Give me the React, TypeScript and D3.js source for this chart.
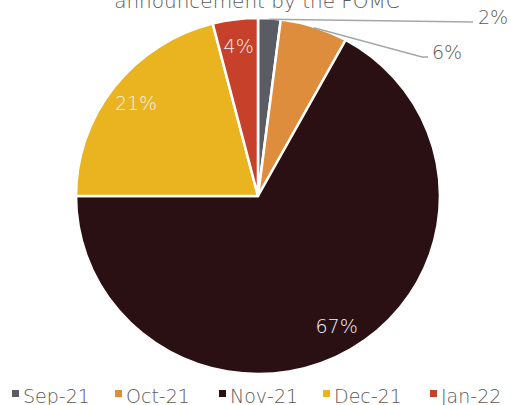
import React from "react";
import * as d3 from "d3";

const categories = ["Sep-21", "Oct-21", "Nov-21", "Dec-21", "Jan-22"];
const values = [2, 6, 67, 21, 4];
const colors = ["#595c63", "#dd8d3c", "#2b1013", "#e9b41f", "#c7402a"];
const titleLine = "announcement by the FOMC";

const W = 511;
const H = 405;
const cx = 258;
const cy = 196;
const R = 178;
const SX = 182 / 178;
const FONT = "'DejaVu Sans', sans-serif";

// outside-label layout for small slices
const outside: Record<number, { lx: number; ly: number; tx: number; ty: number; elbow?: [number, number] }> = {
  0: { lx: 473, ly: 22, tx: 478, ty: 24 },
  1: { lx: 428, ly: 57, tx: 432, ty: 59, elbow: [422, 57] },
};

export default function App() {
  const pie = d3.pie<number>().sort(null).value((d) => d);
  const arcs = pie(values);
  const arc = d3.arc<d3.PieArcDatum<number>>().innerRadius(0).outerRadius(R);
  const total = d3.sum(values);

  return (
    <svg width={W} height={H} style={{ position: "absolute", left: 0, top: 0, background: "#fff" }}>
      <text x={257} y={8} textAnchor="middle" fontFamily={FONT} fontWeight={200} fontSize={20} fill="#595959">
        {titleLine}
      </text>
      <g transform={`translate(${cx},${cy})`}>
        <g transform={`scale(${SX},1)`}>
          {arcs.map((a, i) => (
            <path key={i} d={arc(a) || ""} fill={colors[i]} stroke="#fff" strokeWidth={2.5} strokeLinejoin="round" />
          ))}
        </g>
        {arcs.map((a, i) => {
          const pct = `${Math.round((a.value / total) * 100)}%`;
          const o = outside[i];
          const mid = (a.startAngle + a.endAngle) / 2;
          if (o) {
            const sx = Math.sin(mid) * (R - 1) * SX;
            const sy = -Math.cos(mid) * (R - 1);
            const pts: [number, number][] = [[sx, sy]];
            if (o.elbow) pts.push([o.elbow[0] - cx, o.elbow[1] - cy]);
            pts.push([o.lx - cx, o.ly - cy]);
            return (
              <g key={i}>
                <path d={d3.line()(pts) || ""} fill="none" stroke="#a6a6a6" strokeWidth={1.5} />
                <text x={o.tx - cx} y={o.ty - cy} fontFamily={FONT} fontWeight={200} fontSize={19} fill="#595959">
                  {pct}
                </text>
              </g>
            );
          }
          const lr = 151;
          const x = Math.sin(mid) * lr * SX;
          const y = -Math.cos(mid) * lr;
          return (
            <text key={i} x={x} y={y} textAnchor="middle" dominantBaseline="central" fontFamily={FONT} fontWeight={200} fontSize={19} fill="#f2f2f2">
              {pct}
            </text>
          );
        })}
      </g>
      {categories.map((c, i) => {
        const starts = [12, 115, 219, 323, 430];
        return (
          <g key={c}>
            <rect x={starts[i]} y={390} width={7} height={7} fill={colors[i]} />
            <text x={starts[i] + 11} y={403} fontFamily={FONT} fontWeight={200} fontSize={19} fill="#595959">
              {c}
            </text>
          </g>
        );
      })}
    </svg>
  );
}
